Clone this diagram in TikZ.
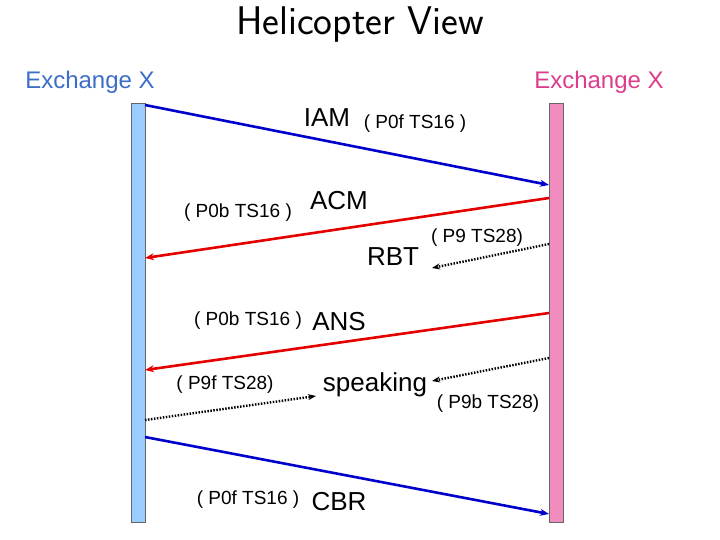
\documentclass[tikz,border=0pt]{standalone}
\usepackage{fontspec}
\setmainfont{Liberation Sans}
\usetikzlibrary{arrows.meta,positioning}
\definecolor{xblue}{RGB}{153,204,255}
\definecolor{xpink}{RGB}{240,140,190}
\definecolor{tblue}{RGB}{60,110,200}
\definecolor{tpink}{RGB}{220,60,140}
\begin{document}
\begin{tikzpicture}[x=1pt,y=-1pt,
    bar/.style={draw=black!60,minimum width=14pt,minimum height=419pt,inner sep=0pt},
    sig/.style={-{Stealth[length=9pt,width=7pt]},line width=2.6pt},
    bear/.style={-{Stealth[length=8pt,width=6pt]},line width=2.4pt,dash pattern=on 1.5pt off 1.5pt},
    big/.style={font=\fontsize{26}{28}\selectfont},
    small/.style={font=\fontsize{19}{21}\selectfont}]
  \useasboundingbox (0,0) rectangle (720,540);
  \node[font=\fontsize{40}{44}\selectfont\sffamily] (title) at (360,25) {Helicopter View};
  \node[font=\fontsize{24}{26}\selectfont,text=tblue] (exa) at (90,82) {Exchange X};
  \node[font=\fontsize{24}{26}\selectfont,text=tpink] (exb) at (599,82) {Exchange X};
  \node[bar,fill=xblue] (A) at (138,312.5) {};
  \node[bar,fill=xpink] (B) at (556,312.5) {};
  % signalling
  \coordinate (iam1) at (145,105); \coordinate (iam2) at (549,185);
  \coordinate (acm1) at (549,198); \coordinate (acm2) at (145,258);
  \coordinate (rbt1) at (549,244); \coordinate (rbt2) at (432,268);
  \coordinate (ans1) at (549,313); \coordinate (ans2) at (145,370);
  \coordinate (spk1) at (549,358); \coordinate (spk2) at (432,381);
  \coordinate (spk3) at (145,420); \coordinate (spk4) at (316,396);
  \coordinate (cbr1) at (145,437); \coordinate (cbr2) at (549,514);
  \draw[sig,blue!80!black] (iam1) -- (iam2);
  \draw[sig,red!90!black] (acm1) -- (acm2);
  \draw[bear] (rbt1) -- (rbt2);
  \draw[sig,red!90!black] (ans1) -- (ans2);
  \draw[bear] (spk1) -- (spk2);
  \draw[bear] (spk3) -- (spk4);
  \draw[sig,blue!80!black] (cbr1) -- (cbr2);
  % labels
  \node[big] (liam) at (327,118) {IAM};
  \node[small] (piam) at (415,124) {( P0f TS16 )};
  \node[big] (lacm) at (339,201) {ACM};
  \node[small] (pacm) at (238,213) {( P0b TS16 )};
  \node[big] (lrbt) at (393,257) {RBT};
  \node[small] (prbt) at (477,238) {( P9 TS28)};
  \node[big] (lans) at (339,322) {ANS};
  \node[small] (pans) at (248,321) {( P0b TS16 )};
  \node[big] (lspk) at (375,385) {speaking};
  \node[small] (pspf) at (225,385) {( P9f TS28)};
  \node[small] (pspb) at (488,404) {( P9b TS28)};
  \node[big] (lcbr) at (339,502) {CBR};
  \node[small] (pcbr) at (248,500) {( P0f TS16 )};
\end{tikzpicture}
\end{document}
